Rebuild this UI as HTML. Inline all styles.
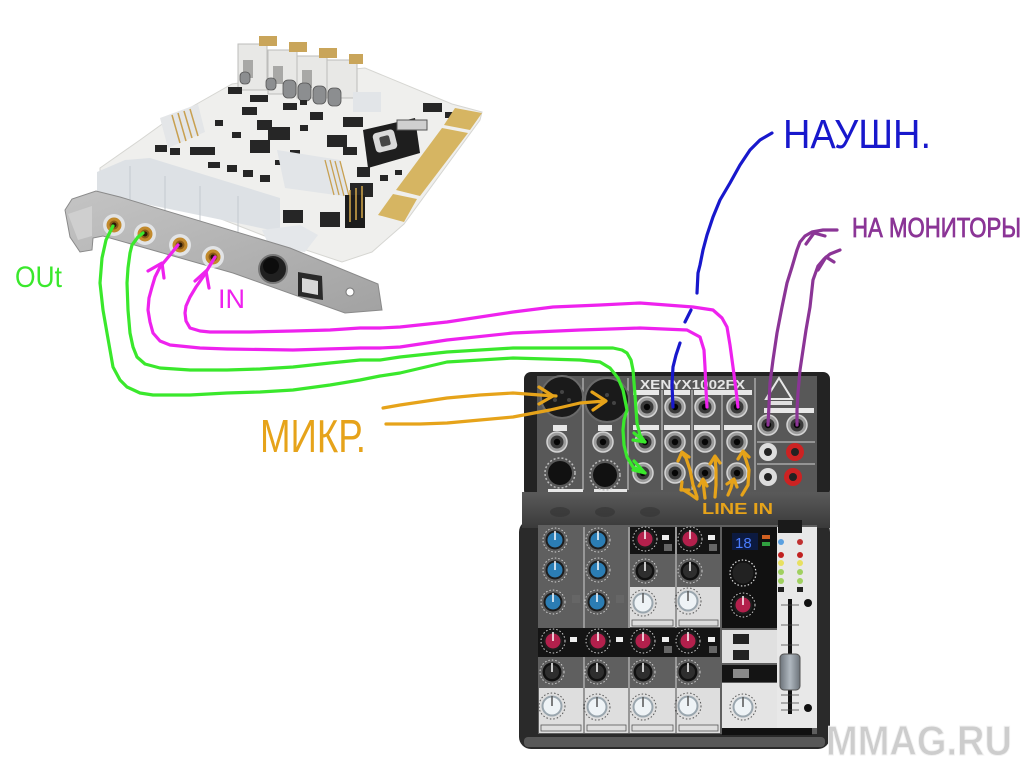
<!DOCTYPE html>
<html><head><meta charset="utf-8">
<style>
html,body{margin:0;padding:0;background:#fff;}
svg{display:block;}
.hw{font-family:"Liberation Sans","DejaVu Sans",sans-serif;}
</style></head>
<body>
<svg width="1024" height="768" viewBox="0 0 1024 768" xmlns="http://www.w3.org/2000/svg">
<defs>
<linearGradient id="band" x1="0" y1="0" x2="0" y2="1">
<stop offset="0" stop-color="#5a5a5a"/><stop offset="1" stop-color="#3a3a3a"/>
</linearGradient>
<linearGradient id="brk" x1="0" y1="0" x2="1" y2="1">
<stop offset="0" stop-color="#c4c4c4"/><stop offset="1" stop-color="#a2a2a2"/>
</linearGradient>
<linearGradient id="fad" x1="0" y1="0" x2="1" y2="0">
<stop offset="0" stop-color="#6c737a"/><stop offset="0.5" stop-color="#b0b8c0"/><stop offset="1" stop-color="#6c737a"/>
</linearGradient>
<g id="jack"><circle r="10" fill="#9c9c9c" stroke="#d4d4d4" stroke-width="1.5"/><circle r="6.5" fill="#3a3a3a"/><circle r="3.2" fill="#050505"/></g>
<g id="cjack"><circle r="11" fill="#e2e4e6"/><circle r="7.5" fill="#c28a2c"/><circle r="4.5" fill="#8a5a18"/><circle r="2.5" fill="#2a1a08"/></g>
<g id="kb"><circle r="12" fill="none" stroke="#cfcfcf" stroke-width="1" stroke-dasharray="1.5 2"/><circle r="9.5" fill="#1d1d1d"/><circle r="7.5" fill="#2b7db4"/><line x1="0" y1="0" x2="0" y2="-9" stroke="#fff" stroke-width="1.5"/></g>
<g id="kr"><circle r="12" fill="none" stroke="#cfcfcf" stroke-width="1" stroke-dasharray="1.5 2"/><circle r="9.5" fill="#1d1d1d"/><circle r="7.5" fill="#b3204c"/><line x1="0" y1="0" x2="0" y2="-9" stroke="#fff" stroke-width="1.5"/></g>
<g id="kd"><circle r="12" fill="none" stroke="#cfcfcf" stroke-width="1" stroke-dasharray="1.5 2"/><circle r="9.5" fill="#111"/><circle r="7" fill="#2e2e2e"/><line x1="0" y1="0" x2="0" y2="-9" stroke="#fff" stroke-width="1.5"/></g>
<g id="kw"><circle r="13" fill="none" stroke="#555" stroke-width="1" stroke-dasharray="1.5 2"/><circle r="10.5" fill="#9aa6ae"/><circle r="8.5" fill="#eef3f6"/><line x1="0" y1="0" x2="0" y2="-10" stroke="#555" stroke-width="1.5"/></g>
</defs>
<rect width="1024" height="768" fill="#fff"/>

<!-- ================= SOUND CARD ================= -->
<polygon points="100,168 140,140 165,122 232,84 300,74 365,68 452,104 482,112 480,120 404,224 372,252 342,262 270,238 100,172" fill="#efefed" stroke="#d6d6d2" stroke-width="1"/>
<polygon points="160,118 198,104 205,132 168,148" fill="#e4e6e8"/>
<g stroke="#c8a050" stroke-width="1.5">
<line x1="172" y1="115" x2="180" y2="143"/><line x1="178" y1="113" x2="186" y2="141"/><line x1="184" y1="111" x2="192" y2="138"/><line x1="190" y1="109" x2="198" y2="136"/></g>
<g>
<rect x="238" y="44" width="29" height="46" fill="#e8e8e6" stroke="#bdbdbb"/>
<rect x="268" y="50" width="29" height="44" fill="#e8e8e6" stroke="#bdbdbb"/>
<rect x="297" y="56" width="30" height="42" fill="#e8e8e6" stroke="#bdbdbb"/>
<rect x="327" y="60" width="30" height="38" fill="#e8e8e6" stroke="#bdbdbb"/>
<rect x="259" y="36" width="18" height="10" fill="#c9a55a"/>
<rect x="289" y="42" width="18" height="10" fill="#c9a55a"/>
<rect x="319" y="48" width="18" height="10" fill="#c9a55a"/>
<rect x="349" y="54" width="14" height="10" fill="#c9a55a"/>
<rect x="243" y="60" width="10" height="18" fill="#a8a8a6"/>
<rect x="273" y="66" width="10" height="18" fill="#a8a8a6"/>
<rect x="302" y="70" width="10" height="18" fill="#a8a8a6"/>
</g>
<g fill="#8c8e90" stroke="#555" stroke-width="0.8">
<rect x="283" y="80" width="13" height="18" rx="5"/><rect x="298" y="83" width="13" height="18" rx="5"/>
<rect x="313" y="86" width="13" height="18" rx="5"/><rect x="328" y="88" width="13" height="18" rx="5"/>
<rect x="240" y="72" width="10" height="12" rx="4"/><rect x="266" y="78" width="10" height="12" rx="4"/>
</g>
<g fill="#262626">
<rect x="228" y="87" width="14" height="7"/><rect x="250" y="95" width="18" height="7"/>
<rect x="242" y="107" width="15" height="8"/><rect x="257" y="120" width="15" height="10"/>
<rect x="268" y="127" width="22" height="13"/><rect x="250" y="140" width="20" height="13"/>
<rect x="190" y="147" width="25" height="8"/><rect x="155" y="145" width="12" height="7"/>
<rect x="170" y="148" width="10" height="7"/><rect x="208" y="162" width="12" height="6"/>
<rect x="227" y="165" width="10" height="7"/><rect x="243" y="170" width="10" height="7"/>
<rect x="260" y="175" width="10" height="7"/><rect x="283" y="103" width="14" height="7"/>
<rect x="310" y="112" width="13" height="8"/><rect x="327" y="135" width="20" height="12"/>
<rect x="343" y="117" width="20" height="10"/><rect x="423" y="103" width="19" height="9"/>
<rect x="343" y="147" width="14" height="8"/><rect x="350" y="183" width="23" height="14"/>
<rect x="357" y="167" width="13" height="10"/><rect x="320" y="212" width="20" height="15"/>
<rect x="283" y="210" width="20" height="13"/><rect x="300" y="125" width="8" height="6"/>
<rect x="215" y="120" width="8" height="6"/><rect x="445" y="112" width="8" height="6"/>
<rect x="290" y="150" width="10" height="6"/><rect x="315" y="160" width="8" height="8"/>
<rect x="380" y="175" width="8" height="6"/><rect x="232" y="132" width="9" height="6"/>
<rect x="300" y="100" width="7" height="5"/><rect x="410" y="180" width="8" height="6"/>
<rect x="395" y="170" width="7" height="5"/><rect x="275" y="160" width="7" height="5"/>
</g>
<polygon points="363,130 415,118 420,153 368,168" fill="#1e1e1e"/>
<rect x="374" y="131" width="22" height="20" rx="4" fill="#d9d9d9" transform="rotate(-14 385 141)"/>
<rect x="380" y="136" width="10" height="10" rx="2" fill="#444" transform="rotate(-14 385 141)"/>
<rect x="397" y="120" width="30" height="10" fill="#cfcfcf" stroke="#555" stroke-width="1"/>
<polygon points="277,150 340,160 350,197 285,188" fill="#e2e5e8"/>
<g stroke="#c8a050" stroke-width="1.3">
<line x1="325" y1="160" x2="334" y2="195"/><line x1="330" y1="160" x2="339" y2="195"/><line x1="335" y1="161" x2="344" y2="196"/><line x1="340" y1="161" x2="349" y2="196"/></g>
<rect x="353" y="92" width="28" height="20" fill="#e2e5e8"/>
<rect x="345" y="195" width="20" height="33" fill="#1c1c1c"/>
<g stroke="#d4a84a" stroke-width="1.5"><line x1="350" y1="190" x2="350" y2="222"/><line x1="356" y1="188" x2="356" y2="220"/><line x1="362" y1="186" x2="362" y2="218"/></g>
<polygon points="455,108 482,113 470,130 444,125" fill="#d6b562"/>
<polygon points="442,128 468,133 420,196 396,190" fill="#d6b562"/>
<polygon points="393,194 417,199 404,222 378,215" fill="#d6b562"/>
<polygon points="97,172 125,160 150,158 280,198 280,232 97,194" fill="#dde1e5"/>
<g stroke="#c4c9ce" stroke-width="1"><line x1="130" y1="166" x2="130" y2="206"/><line x1="165" y1="176" x2="165" y2="216"/><line x1="200" y1="186" x2="200" y2="226"/><line x1="238" y1="196" x2="238" y2="236"/></g>
<polygon points="262,230 300,225 318,235 305,252 270,248" fill="#e4e7ea"/>
<polygon points="65,210 72,199 96,191 120,197 290,248 378,284 382,310 345,313 233,273 103,236 93,238 92,250 80,252 70,237" fill="url(#brk)" stroke="#8a8a8a" stroke-width="1"/>
<polygon points="68,214 92,206 92,236 78,240" fill="#cfcfcf"/>
<use href="#cjack" x="114" y="225"/>
<use href="#cjack" x="145" y="234"/>
<use href="#cjack" x="180" y="245"/>
<use href="#cjack" x="213" y="257"/>
<circle cx="273" cy="269" r="14" fill="#202020" stroke="#777" stroke-width="2"/>
<circle cx="271" cy="266" r="8" fill="#0c0c0c"/>
<polygon points="298,272 322,276 323,300 298,296" fill="#2a2a2a"/>
<polygon points="302,278 318,281 318,295 302,292" fill="#d8d8d8"/>
<circle cx="350" cy="292" r="4" fill="#fff" stroke="#777"/>

<!-- ================= MIXER ================= -->
<rect x="519" y="520" width="311" height="229" rx="12" fill="#2a2a2a"/>
<rect x="524" y="737" width="301" height="10" rx="4" fill="#585858"/>
<rect x="524" y="372" width="306" height="125" rx="7" fill="#232323"/>
<rect x="537" y="376" width="280" height="116" fill="#585858"/>
<rect x="522" y="492" width="308" height="36" fill="url(#band)"/>
<g fill="#333" opacity="0.6"><ellipse cx="560" cy="512" rx="10" ry="5"/><ellipse cx="605" cy="512" rx="10" ry="5"/><ellipse cx="650" cy="512" rx="10" ry="5"/></g>
<g stroke="#d0d0d0" stroke-width="1">
<line x1="583" y1="378" x2="583" y2="490"/><line x1="628" y1="378" x2="628" y2="490"/>
<line x1="662" y1="390" x2="662" y2="490"/><line x1="692" y1="390" x2="692" y2="490"/>
<line x1="722" y1="390" x2="722" y2="490"/><line x1="755" y1="378" x2="755" y2="490"/>
<line x1="757" y1="442" x2="815" y2="442"/><line x1="757" y1="464" x2="815" y2="464"/>
</g>
<text x="640" y="389" font-family="Liberation Sans,sans-serif" font-weight="bold" font-size="13" fill="#e6e6e6" textLength="105" lengthAdjust="spacingAndGlyphs">XENYX1002FX</text>
<g fill="#e8e8e8">
<rect x="633" y="390" width="26" height="5"/><rect x="664" y="390" width="26" height="5"/><rect x="694" y="390" width="58" height="5"/>
<rect x="633" y="425" width="26" height="5"/><rect x="664" y="425" width="26" height="5"/><rect x="694" y="425" width="26" height="5"/><rect x="724" y="425" width="28" height="5"/>
<rect x="553" y="425" width="14" height="6"/><rect x="598" y="425" width="14" height="6"/>
<rect x="764" y="408" width="50" height="5"/>
<rect x="548" y="489" width="35" height="3"/><rect x="594" y="489" width="33" height="3"/>
</g>
<polygon points="779,378 792,399 766,399" fill="none" stroke="#e8e8e8" stroke-width="2"/>
<rect x="768" y="401" width="24" height="4" fill="#e0e0e0"/>
<circle cx="562" cy="397" r="21" fill="#1a1a1a" stroke="#6a6a6a" stroke-width="2"/>
<circle cx="607" cy="400" r="22" fill="#1a1a1a" stroke="#6a6a6a" stroke-width="2"/>
<g fill="#444"><circle cx="555" cy="400" r="2"/><circle cx="569" cy="400" r="2"/><circle cx="562" cy="392" r="2"/><circle cx="600" cy="403" r="2"/><circle cx="614" cy="403" r="2"/><circle cx="607" cy="395" r="2"/></g>
<use href="#jack" x="557" y="442"/><use href="#jack" x="603" y="442"/>
<use href="#jack" x="647" y="407"/><use href="#jack" x="645" y="442"/><use href="#jack" x="643" y="473"/>
<use href="#jack" x="675" y="407"/><use href="#jack" x="675" y="442"/><use href="#jack" x="675" y="473"/>
<use href="#jack" x="705" y="407"/><use href="#jack" x="705" y="442"/><use href="#jack" x="705" y="473"/>
<use href="#jack" x="737" y="407"/><use href="#jack" x="737" y="442"/><use href="#jack" x="737" y="473"/>
<use href="#jack" x="768" y="425"/><use href="#jack" x="797" y="425"/>
<circle cx="560" cy="473" r="15" fill="none" stroke="#bbb" stroke-width="1.5" stroke-dasharray="2 2"/>
<circle cx="560" cy="473" r="12" fill="#111"/>
<circle cx="605" cy="475" r="15" fill="none" stroke="#bbb" stroke-width="1.5" stroke-dasharray="2 2"/>
<circle cx="605" cy="475" r="12" fill="#111"/>
<circle cx="768" cy="452" r="9" fill="#ddd"/><circle cx="768" cy="452" r="4" fill="#222"/>
<circle cx="795" cy="452" r="9" fill="#cc2222"/><circle cx="795" cy="452" r="4" fill="#222"/>
<circle cx="768" cy="477" r="9" fill="#ddd"/><circle cx="768" cy="477" r="4" fill="#222"/>
<circle cx="793" cy="477" r="9" fill="#cc2222"/><circle cx="793" cy="477" r="4" fill="#222"/>

<rect x="538" y="525" width="279" height="209" fill="#5f5f5f"/>
<g stroke="#cfcfcf" stroke-width="1"><line x1="584" y1="527" x2="584" y2="733"/><line x1="629" y1="527" x2="629" y2="733"/><line x1="676" y1="527" x2="676" y2="733"/></g>
<rect x="630" y="527" width="45" height="27" fill="#141414"/>
<rect x="677" y="527" width="43" height="27" fill="#141414"/>
<rect x="630" y="587" width="45" height="40" fill="#dcdcdc"/>
<rect x="677" y="587" width="43" height="40" fill="#dcdcdc"/>
<rect x="538" y="628" width="182" height="29" fill="#141414"/>
<rect x="539" y="688" width="44" height="45" fill="#dedede"/>
<rect x="585" y="688" width="43" height="45" fill="#dedede"/>
<rect x="630" y="688" width="45" height="45" fill="#dedede"/>
<rect x="677" y="688" width="43" height="45" fill="#dedede"/>
<g fill="none" stroke="#555" stroke-width="0.8">
<rect x="541" y="725" width="40" height="6"/><rect x="587" y="725" width="39" height="6"/><rect x="632" y="725" width="41" height="6"/><rect x="679" y="725" width="39" height="6"/>
<rect x="632" y="620" width="41" height="6"/><rect x="679" y="620" width="39" height="6"/></g>
<rect x="722" y="527" width="55" height="101" fill="#111"/>
<rect x="732" y="533" width="26" height="17" fill="#0c1a40"/>
<text x="735" y="548" font-family="Liberation Sans,sans-serif" font-size="15" fill="#4a7cff">18</text>
<rect x="762" y="535" width="8" height="4" fill="#d06020"/><rect x="762" y="542" width="8" height="4" fill="#30a040"/>
<rect x="722" y="630" width="55" height="33" fill="#e0e0e0"/>
<rect x="733" y="634" width="16" height="10" fill="#222"/><rect x="733" y="650" width="16" height="10" fill="#222"/>
<rect x="722" y="665" width="55" height="17" fill="#141414"/><rect x="733" y="669" width="16" height="9" fill="#8a8a8a"/>
<rect x="722" y="683" width="55" height="45" fill="#e4e4e4"/>
<rect x="722" y="728" width="90" height="7" fill="#111"/>
<rect x="777" y="527" width="40" height="201" fill="#e8e8e8"/>
<rect x="778" y="520" width="24" height="13" fill="#1a1a1a"/>
<circle cx="781" cy="542" r="3" fill="#5aa0e0"/><circle cx="800" cy="542" r="3" fill="#c03030"/>
<circle cx="781" cy="555" r="3" fill="#c02020"/><circle cx="800" cy="555" r="3" fill="#c02020"/>
<circle cx="781" cy="563" r="3" fill="#e8e060"/><circle cx="800" cy="563" r="3" fill="#e8e060"/>
<circle cx="781" cy="572" r="3" fill="#a0d060"/><circle cx="800" cy="572" r="3" fill="#a0d060"/>
<circle cx="781" cy="581" r="3" fill="#a0d060"/><circle cx="800" cy="581" r="3" fill="#a0d060"/>
<rect x="778" y="587" width="6" height="5" fill="#222"/><rect x="797" y="587" width="6" height="5" fill="#222"/>
<rect x="788" y="599" width="4" height="115" fill="#111"/>
<g stroke="#444" stroke-width="0.8"><line x1="781" y1="605" x2="799" y2="605"/><line x1="781" y1="625" x2="799" y2="625"/><line x1="781" y1="645" x2="799" y2="645"/><line x1="781" y1="695" x2="799" y2="695"/><line x1="781" y1="703" x2="799" y2="703"/><line x1="781" y1="710" x2="799" y2="710"/></g>
<rect x="780" y="654" width="20" height="36" rx="4" fill="url(#fad)" stroke="#555"/>
<circle cx="808" cy="603" r="4" fill="#111"/><circle cx="808" cy="708" r="4" fill="#111"/>
<use href="#kb" x="555" y="540"/><use href="#kb" x="555" y="570"/><use href="#kb" x="553" y="602"/>
<use href="#kb" x="598" y="540"/><use href="#kb" x="598" y="570"/><use href="#kb" x="597" y="602"/>
<use href="#kr" x="645" y="539"/><use href="#kr" x="690" y="539"/>
<use href="#kd" x="645" y="571"/><use href="#kd" x="690" y="571"/>
<use href="#kw" x="643" y="603"/><use href="#kw" x="688" y="601"/>
<use href="#kr" x="553" y="641"/><use href="#kr" x="598" y="641"/><use href="#kr" x="643" y="641"/><use href="#kr" x="688" y="641"/>
<use href="#kd" x="552" y="672"/><use href="#kd" x="597" y="672"/><use href="#kd" x="643" y="672"/><use href="#kd" x="688" y="672"/>
<use href="#kw" x="552" y="706"/><use href="#kw" x="597" y="707"/><use href="#kw" x="643" y="707"/><use href="#kw" x="688" y="706"/>
<circle cx="743" cy="573" r="13" fill="none" stroke="#ddd" stroke-width="1.2" stroke-dasharray="1.5 2"/><circle cx="743" cy="573" r="10.5" fill="#222"/>
<use href="#kr" x="743" y="605"/>
<use href="#kw" x="743" y="707"/>
<g fill="#666"><rect x="572" y="595" width="8" height="8"/><rect x="616" y="595" width="8" height="8"/><rect x="664" y="544" width="8" height="7"/><rect x="709" y="544" width="8" height="7"/><rect x="664" y="646" width="8" height="7"/><rect x="709" y="646" width="8" height="7"/></g>
<g fill="#eee"><rect x="570" y="637" width="7" height="5"/><rect x="616" y="637" width="7" height="5"/><rect x="662" y="535" width="7" height="5"/><rect x="708" y="535" width="7" height="5"/><rect x="662" y="637" width="7" height="5"/><rect x="708" y="637" width="7" height="5"/></g>

<text x="826" y="755" font-family="Liberation Sans,sans-serif" font-weight="bold" font-size="42" fill="#cdcdcd" stroke="#f2f2f2" stroke-width="1" textLength="186" lengthAdjust="spacingAndGlyphs">MMAG.RU</text>

<!-- ================= HAND-DRAWN LINES ================= -->
<g fill="none" stroke-width="3.2" stroke-linecap="round" stroke-linejoin="round">
<g stroke="#3ae82c">
<polyline points="113,226 106,240 102,258 100,283 103,310 107,333 113,367 120,380 127,387 140,393 153,395 190,395 227,393 260,392 293,390 330,385 360,380 380,376 400,373 447,362 513,358 580,360 600,362 610,368 618,378 623,390 627,410 624,420 623,430 624,445 627,457 633,467 645,473"/>
<polyline points="634,461 645,473 633,470"/>
<polyline points="143,233 138,237 132,245 130,253 128,268 127,283 128,310 130,333 133,347 137,357 145,364 160,368 190,370 227,370 260,369 293,367 330,363 360,360 380,360 400,357 447,352 513,348 560,348 613,348 622,350 627,353 631,360 633,370 635,395 637,423 640,435 645,442"/>
<polyline points="634,433 645,442 633,440"/>
</g>
<g stroke="#ee22ee">
<polyline points="178,245 170,255 160,267 155,277 152,287 149,298 148,310 150,322 153,333 160,341 170,345 200,348 227,349 293,350 360,348 380,348 400,347 447,340 513,333 580,330 640,328 687,330 700,337 704,350 705,367 706,390 707,407"/>
<polyline points="148,271 162,263 164,278"/>
<polyline points="215,257 209,267 203,277 196,287 190,297 186,306 185,313 186,321 190,328 200,331 210,332 250,332 293,331 330,330 360,328 380,328 400,327 447,322 513,312 553,307 600,305 640,303 693,307 713,310 722,318 727,327 730,345 733,367 736,390 738,407"/>
<polyline points="195,281 206,271 209,288"/>
</g>
<g stroke="#1818cc">
<polyline points="772,133 760,140 750,150 740,165 730,183 720,200 713,217 707,235 703,250 700,265 698,273 697,293"/>
<polyline points="691,310 685,322"/>
<polyline points="680,343 676,355 673,367 672,385 673,407"/>
</g>
<g stroke="#8b3596">
<polyline points="837,230 823,230 812,232 805,236 800,242 797,250 792,267 787,283 782,307 777,333 773,360 770,383 769,405 768,425"/>
<polyline points="806,244 814,233 825,236"/>
<polyline points="840,250 830,254 824,259 818,266 813,280 810,307 806,330 803,350 800,370 798,393 797,410 797,425"/>
<polyline points="818,270 826,257 834,262"/>
</g>
<g stroke="#e6a31a">
<polyline points="383,408 400,405 447,398 480,395 513,393 540,395 556,396"/>
<polyline points="539,387 553,396 539,404"/>
<polyline points="386,424 420,424 447,423 480,420 513,417 550,410 580,403 605,401"/>
<polyline points="592,392 606,401 593,410"/>
<polyline points="697,499 690,494 682,489"/><polyline points="682,482 681,490 689,490"/>
<polyline points="697,497 693,485 690,470 686,458 682,453"/><polyline points="678,461 682,452 689,457"/>
<polyline points="705,498 704,490 703,480"/><polyline points="699,486 703,479 707,486"/>
<polyline points="715,497 716,485 716,470 715,457"/><polyline points="710,464 715,456 720,463"/>
<polyline points="728,495 731,488 733,480"/><polyline points="727,484 734,479 737,487"/>
<polyline points="742,495 748,485 749,470 746,460 743,452"/><polyline points="738,459 743,451 749,457"/>
</g>
</g>

<!-- ================= HAND-DRAWN LABELS ================= -->
<text class="hw" x="15" y="287" font-size="30" fill="#3ae82c" textLength="47" lengthAdjust="spacingAndGlyphs">OUt</text>
<text class="hw" x="218" y="308" font-size="27" fill="#ee22ee" textLength="27" lengthAdjust="spacingAndGlyphs">IN</text>
<text class="hw" x="260" y="452" font-size="46" fill="#e6a31a" textLength="106" lengthAdjust="spacingAndGlyphs">МИКР.</text>
<text class="hw" x="783" y="148" font-size="41" fill="#1818cc" textLength="148" lengthAdjust="spacingAndGlyphs">НАУШН.</text>
<text class="hw" x="852" y="237" font-size="28" fill="#8b3596" stroke="#8b3596" stroke-width="0.8" textLength="169" lengthAdjust="spacingAndGlyphs">НА МОНИТОРЫ</text>
<text class="hw" x="702" y="514" font-size="16" font-weight="bold" fill="#e6a31a" textLength="71" lengthAdjust="spacingAndGlyphs">LINE IN</text>
</svg>
</body></html>
